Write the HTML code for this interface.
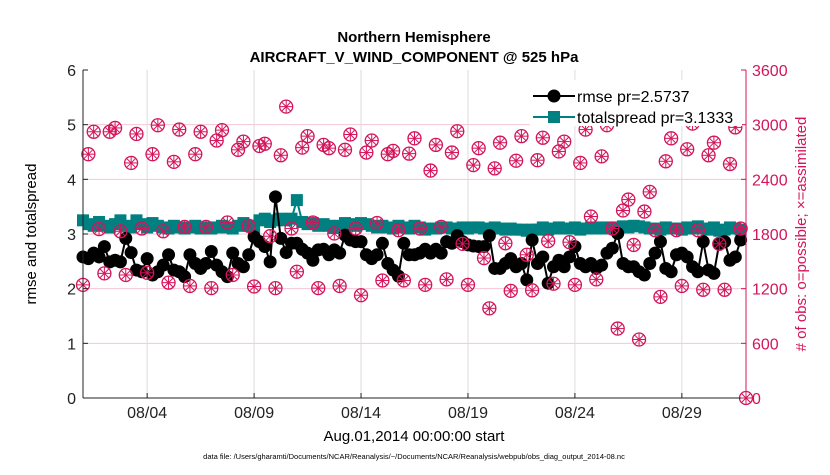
<!DOCTYPE html>
<html><head><meta charset="utf-8"><style>
body{margin:0;background:#fff;width:830px;height:470px;overflow:hidden}
svg{font-family:"Liberation Sans",sans-serif}
</style></head><body>
<svg id="chart" width="830" height="470" xmlns="http://www.w3.org/2000/svg">
<text x="414" y="42" text-anchor="middle" font-size="15" font-weight="bold">Northern Hemisphere</text>
<text x="414" y="62" text-anchor="middle" font-size="15" font-weight="bold">AIRCRAFT_V_WIND_COMPONENT @ 525 hPa</text>
<g id="grid"></g>
<g id="marks"></g>
<g id="axes"></g>
<text transform="translate(36,234) rotate(-90)" text-anchor="middle" font-size="15">rmse and totalspread</text>
<text transform="translate(806,234) rotate(-90)" text-anchor="middle" font-size="15" fill="#d4145a"># of obs: o=possible; ×=assimilated</text>
<text x="414" y="441" text-anchor="middle" font-size="15">Aug.01,2014 00:00:00 start</text>
<text x="414" y="459" text-anchor="middle" font-size="7.5">data file: /Users/gharamti/Documents/NCAR/Reanalysis/~/Documents/NCAR/Reanalysis/webpub/obs_diag_output_2014-08.nc</text>
<g>
<rect x="530" y="80" width="212" height="46" fill="#fff"/>
<line x1="533" y1="96" x2="575" y2="96" stroke="#000" stroke-width="2"/>
<circle cx="554" cy="96" r="6.5" fill="#000"/>
<text x="577" y="102" font-size="16">rmse pr=2.5737</text>
<line x1="533" y1="117" x2="575" y2="117" stroke="#008080" stroke-width="2"/>
<rect x="548" y="111" width="12" height="12" fill="#008080"/>
<text x="577" y="123" font-size="16">totalspread pr=3.1333</text>
</g>
</svg>
<script>
const xTickLabels=["08/04","08/09","08/14","08/19","08/24","08/29"];
const xTickDays=[3,8,13,18,23,28];
const yLeftTicks=[0,1,2,3,4,5,6];
const yRightTicks=[0,600,1200,1800,2400,3000,3600];
const rmse=[2.58,2.55,2.65,2.58,2.77,2.49,2.52,2.49,2.92,2.66,2.34,2.31,2.55,2.25,2.31,2.43,2.62,2.34,2.31,2.22,2.62,2.46,2.37,2.46,2.68,2.43,2.31,2.22,2.65,2.46,2.40,2.62,
2.95,2.86,2.77,2.49,3.68,2.92,2.66,2.83,2.83,2.72,2.65,2.52,2.71,2.72,2.62,2.71,2.65,2.98,2.89,2.86,2.86,2.62,2.55,2.62,2.83,2.46,2.34,2.23,2.83,
2.62,2.62,2.65,2.72,2.65,2.72,2.65,2.86,2.83,2.97,2.86,2.80,2.78,2.77,2.77,2.97,2.37,2.37,2.46,2.55,2.40,2.46,2.16,2.89,2.46,2.58,2.10,2.40,2.52,2.40,2.58,
2.77,2.46,2.40,2.46,2.37,2.43,2.65,2.74,3.01,2.46,2.40,2.40,2.31,2.25,2.46,2.65,2.86,2.37,2.31,2.62,2.65,2.58,2.40,2.31,2.86,2.34,2.28,2.83,2.86,2.52,2.58,2.89];
const totalspread=[3.25,3.18,3.15,3.22,3.15,3.12,3.18,3.25,3.15,3.12,3.25,3.18,3.12,3.2,3.15,3.12,3.1,3.15,3.12,3.1,3.12,3.15,3.1,3.12,3.1,3.12,3.15,3.12,3.1,3.15,3.2,3.15,
3.12,3.25,3.28,3.22,3.25,3.28,3.25,3.28,3.62,3.22,3.18,3.2,3.15,3.18,3.15,3.12,3.15,3.2,3.18,3.15,3.2,3.18,3.15,3.12,3.15,3.12,3.1,3.15,3.12,3.1,3.15,3.12,
3.08,3.1,3.1,3.12,3.12,3.1,3.1,3.12,3.1,3.12,3.12,3.1,3.1,3.12,3.1,3.08,3.1,3.08,3.08,3.06,3.08,3.08,3.12,3.08,3.1,3.12,3.1,3.1,3.12,3.08,3.1,3.12,
3.1,3.12,3.1,3.12,3.1,3.14,3.12,3.15,3.14,3.12,3.1,3.1,3.08,3.12,3.1,3.1,3.08,3.12,3.1,3.14,3.1,3.08,3.12,3.06,3.08,3.12,3.1,3.08];
const obsPossible=[1242,2676,2922,1854,1368,2922,2964,1830,1350,2580,2898,1860,1374,2676,2994,1830,1266,2592,2946,1878,1230,2676,2922,1878,1206,2826,2940,1926,1350,2724,2814,1890,
1224,2766,2790,1776,1206,2664,3198,1860,1386,2748,2874,1926,1206,2778,2742,1806,1230,2724,2892,1860,1128,2694,2826,1920,1290,2676,2712,1842,1290,2682,2850,
1860,1242,2496,2778,1878,1302,2694,2928,1692,1242,2556,2742,1536,984,2520,2802,1698,1176,2604,2874,1572,1182,2610,2856,1722,1254,2706,2814,1710,
1242,2580,2946,1992,1302,2652,2994,1860,762,2058,2178,1680,642,2046,2262,1842,1110,2598,2850,1842,1230,2730,3012,1842,1188,2664,2802,1692,1188,2568,2970,1860,0];
const obsAssimilated=obsPossible.slice();

const NS='http://www.w3.org/2000/svg';
const X0=83,X1=746,Y0=398,Y1=70,DAYS=31;
const RED='#d4145a';
function xs(day){return X0+(day/DAYS)*(X1-X0);}
function yl(v){return Y0-(v/6)*(Y0-Y1);}
function yr(v){return Y0-(v/3600)*(Y0-Y1);}
function mk(tag,attrs,parent){const e=document.createElementNS(NS,tag);for(const k in attrs)e.setAttribute(k,attrs[k]);parent.appendChild(e);return e;}
const grid=document.getElementById('grid'),marks=document.getElementById('marks'),axes=document.getElementById('axes');

yRightTicks.forEach(t=>{if(t===0||t===3600)return;
 const l=mk('line',{x1:X0,x2:X1,y1:yr(t),y2:yr(t),stroke:'#f4c6d6','stroke-width':1},grid);
 
 });
xTickDays.forEach(d=>{
 const l=mk('line',{x1:xs(d),x2:xs(d),y1:Y1,y2:Y0,stroke:'#dcdcdc','stroke-width':1},grid);
 
 });

const tsPts=totalspread.map((v,i)=>xs(i/4)+','+yl(v)).join(' ');
const tsl=mk('polyline',{points:tsPts,fill:'none',stroke:'#008080','stroke-width':2},marks);


totalspread.forEach((v,i)=>{
 const r=mk('rect',{x:xs(i/4)-6,y:yl(v)-6,width:12,height:12,fill:'#008080'},marks);
 
 });

const rPts=rmse.map((v,i)=>xs(i/4)+','+yl(v)).join(' ');
const rl=mk('polyline',{points:rPts,fill:'none',stroke:'#000','stroke-width':2},marks);


rmse.forEach((v,i)=>{
 const c=mk('circle',{cx:xs(i/4),cy:yl(v),r:6.5,fill:'#000'},marks);
 
 });

obsPossible.forEach((v,i)=>{
 const cx=xs(i/4),cy=yr(v);
 const c=mk('circle',{cx:cx,cy:cy,r:6.5,fill:'none',stroke:RED,'stroke-width':1.3},marks);
 
 });
obsAssimilated.forEach((v,i)=>{
 const cx=xs(i/4),cy=yr(v);
 const g=mk('g',{stroke:RED,'stroke-width':1},marks);
 
 
 mk('line',{x1:cx-6.5,x2:cx+6.5,y1:cy,y2:cy},g);
 mk('line',{x1:cx,x2:cx,y1:cy-6.5,y2:cy+6.5},g);
 mk('line',{x1:cx-4.5,x2:cx+4.5,y1:cy-4.5,y2:cy+4.5},g);
 mk('line',{x1:cx-4.5,x2:cx+4.5,y1:cy+4.5,y2:cy-4.5},g);});

mk('line',{x1:X0,x2:X0,y1:Y1,y2:Y0,stroke:'#222','stroke-width':1},axes);
mk('line',{x1:X0,x2:X1,y1:Y0,y2:Y0,stroke:'#222','stroke-width':1},axes);
mk('line',{x1:X1,x2:X1,y1:Y1,y2:Y0,stroke:RED,'stroke-width':1},axes);
yLeftTicks.forEach(t=>{
 mk('line',{x1:X0,x2:X0+5,y1:yl(t),y2:yl(t),stroke:'#222'},axes);
 const tx=mk('text',{x:X0-7,y:yl(t)+6,'text-anchor':'end','font-size':16,fill:'#222'},axes);
 tx.textContent=t;
 
 });
yRightTicks.forEach(t=>{
 mk('line',{x1:X1-5,x2:X1,y1:yr(t),y2:yr(t),stroke:RED},axes);
 const tx=mk('text',{x:X1+6,y:yr(t)+6,'font-size':16,fill:RED},axes);
 tx.textContent=t;
 
 });
xTickDays.forEach((d,i)=>{
 mk('line',{x1:xs(d),x2:xs(d),y1:Y0,y2:Y0-5,stroke:'#222'},axes);
 const tx=mk('text',{x:xs(d),y:Y0+20,'text-anchor':'middle','font-size':16,fill:'#222'},axes);
 tx.textContent=xTickLabels[i];
 
 });
</script>
</body></html>
